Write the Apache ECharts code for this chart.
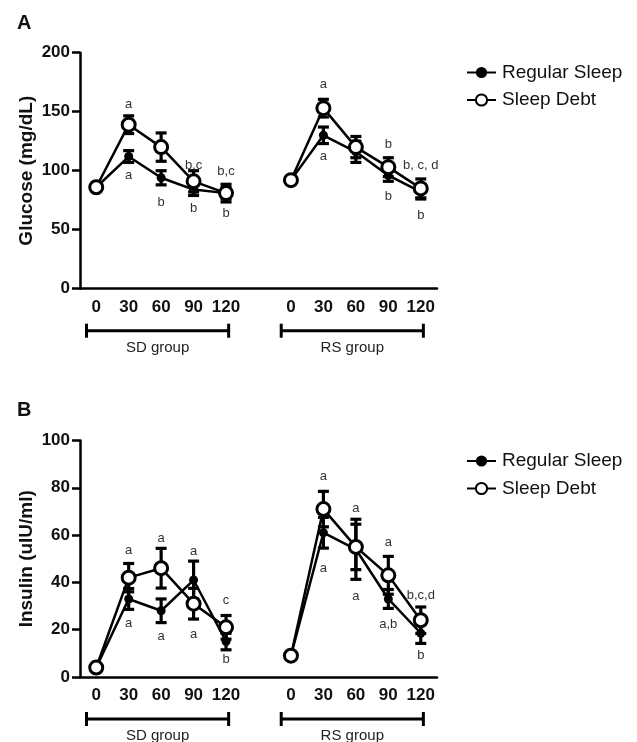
<!DOCTYPE html>
<html>
<head>
<meta charset="utf-8">
<script src="https://cdn.jsdelivr.net/npm/echarts@6/dist/echarts.min.js"></script>
<style>
html, body { margin: 0; padding: 0; background: #fff; }
#main { width: 637px; height: 742px; }
</style>
</head>
<body>
<div id="main"></div>
<script>
// time points: SD group, empty slot, RS group
var timeLabels = ['0', '30', '60', '90', '120', '', '0', '30', '60', '90', '120'];
var groupNames = ['SD group', 'RS group'];
var groupStart = [0, 6];
var groupEnd = [4, 10];

// Glucose (mg/dL)
var glucoseRegular    = [86, 112, 94, 84, 81, null, 92, 130, 116, 96, 82];
var glucoseRegularErr = [2, 5, 6, 5, 5, null, 2, 7, 9, 5, 6];
var glucoseDebt       = [86, 139, 120, 91, 81, null, 92, 153, 120, 103, 85];
var glucoseDebtErr    = [2, 7.5, 12, 9, 7.5, null, 2, 7.5, 9, 8, 8];

// Insulin (uIU/ml)
var insulinRegular    = [4, 33, 28, 41, 15, null, 9, 61, 54, 33, 18.5];
var insulinRegularErr = [1, 4.4, 5, 8, 3.5, null, 1, 6.5, 12.7, 4, 4.3];
var insulinDebt       = [4, 42, 46, 31, 21, null, 9, 71, 55, 43, 24];
var insulinDebtErr    = [1, 6, 8.4, 6.5, 5, null, 1, 7.5, 9.6, 8, 5.6];

// significance letters: [time index, y value, text]
var glucoseLetters = [
    [1, 156.5, 'a'], [1, 95.8, 'a'], [2, 73.5, 'b'], [3, 104.2, 'b,c'], [3, 68.4, 'b'],
    [4, 99.2, 'b,c'], [4, 64.2, 'b'],
    [7, 173.2, 'a'], [7, 111.9, 'a'], [9, 122.6, 'b'], [9, 78.6, 'b'],
    [10, 104.2, 'b, c, d'], [10, 62.5, 'b']
];
var insulinLetters = [
    [1, 53.6, 'a'], [1, 22.7, 'a'], [2, 58.4, 'a'], [2, 17, 'a'], [3, 53, 'a'], [3, 17.8, 'a'],
    [4, 32.3, 'c'], [4, 7.5, 'b'],
    [7, 84.6, 'a'], [7, 45.9, 'a'], [8, 71.3, 'a'], [8, 34.2, 'a'], [9, 56.9, 'a'], [9, 22.4, 'a,b'],
    [10, 34.6, 'b,c,d'], [10, 9.3, 'b']
];

var FONT = "'Liberation Sans', Arial, sans-serif";
var chart = echarts.init(document.getElementById('main'));

function tickShown(index) {
    return timeLabels[index] !== '';
}

function errData(mean, err) {
    var out = [];
    for (var i = 0; i < mean.length; i++) {
        if (mean[i] != null) out.push([i, mean[i], err[i]]);
    }
    return out;
}

function renderErrorBar(params, api) {
    var x = api.value(0), y = api.value(1), e = api.value(2);
    var hi = api.coord([x, y + e]);
    var lo = api.coord([x, y - e]);
    var w = 5.5;
    var style = { stroke: '#000', lineWidth: 3.2 };
    return {
        type: 'group',
        children: [
            { type: 'line', shape: { x1: hi[0], y1: hi[1], x2: lo[0], y2: lo[1] }, style: style },
            { type: 'line', shape: { x1: hi[0] - w, y1: hi[1], x2: hi[0] + w, y2: hi[1] }, style: style },
            { type: 'line', shape: { x1: lo[0] - w, y1: lo[1], x2: lo[0] + w, y2: lo[1] }, style: style }
        ]
    };
}

function renderBracket(params, api) {
    var band = api.size([1, 0])[0];
    var p1 = api.coord([api.value(0), 0]);
    var p2 = api.coord([api.value(1), 0]);
    var x1 = p1[0] - 0.3 * band, x2 = p2[0] + 0.08 * band;
    var y = p1[1] + 42;
    var style = { stroke: '#000', lineWidth: 3 };
    return {
        type: 'group',
        children: [
            { type: 'line', shape: { x1: x1, y1: y, x2: x2, y2: y }, style: style },
            { type: 'line', shape: { x1: x1, y1: y - 7, x2: x1, y2: y + 7 }, style: style },
            { type: 'line', shape: { x1: x2, y1: y - 7, x2: x2, y2: y + 7 }, style: style },
            { type: 'text', x: (x1 + x2) / 2, y: y + 17,
              style: { text: groupNames[params.dataIndex], fill: '#222', fontSize: 15, fontFamily: FONT,
                       align: 'center', verticalAlign: 'middle' } }
        ]
    };
}

function letterRenderer(letters) {
    return function (params, api) {
        var p = api.coord([api.value(0), api.value(1)]);
        return {
            type: 'text', x: p[0], y: p[1],
            style: { text: letters[params.dataIndex][2], fill: '#333', fontSize: 13, fontFamily: FONT,
                     align: 'center', verticalAlign: 'middle' }
        };
    };
}

function xAxes(gridIndex) {
    var common = {
        type: 'category', gridIndex: gridIndex, data: timeLabels, boundaryGap: true,
        splitLine: { show: false }
    };
    return [
        Object.assign({}, common, {
            axisLine: { lineStyle: { color: '#000', width: 2.5 } },
            axisTick: { alignWithLabel: true, interval: tickShown, length: 7, lineStyle: { color: '#000', width: 2.5 } },
            axisLabel: { interval: 0, margin: 10, color: '#111', fontSize: 17, fontWeight: 'bold', fontFamily: FONT }
        }),
        Object.assign({}, common, {
            axisLine: { show: false },
            axisTick: { alignWithLabel: true, inside: true, interval: tickShown, length: 7, lineStyle: { color: '#000', width: 2.5 } },
            axisLabel: { show: false }
        })
    ];
}

function yAxis(gridIndex, max, interval, name) {
    return {
        type: 'value', gridIndex: gridIndex, min: 0, max: max, interval: interval,
        name: name, nameLocation: 'middle', nameGap: 44, nameMoveOverlap: false,
        nameTextStyle: { color: '#111', fontSize: 19, fontWeight: 'bold', fontFamily: FONT },
        axisLine: { show: true, lineStyle: { color: '#000', width: 2.5 } },
        axisTick: { show: true, length: 8, lineStyle: { color: '#000', width: 2.5 } },
        axisLabel: { margin: 10, color: '#111', fontSize: 17, fontWeight: 'bold', fontFamily: FONT },
        splitLine: { show: false }
    };
}

function lineSeries(name, data, open, axisIndex) {
    return {
        name: name, type: 'line', data: data, xAxisIndex: axisIndex * 2, yAxisIndex: axisIndex,
        symbol: 'circle', symbolSize: open ? 13 : 9, z: 3, connectNulls: false,
        lineStyle: { color: '#000', width: 2.5 },
        itemStyle: open ? { color: '#fff', borderColor: '#000', borderWidth: 3 } : { color: '#000', borderColor: '#000', borderWidth: 0 },
        emphasis: { disabled: true }
    };
}

function errSeries(mean, err, axisIndex) {
    return {
        type: 'custom', xAxisIndex: axisIndex * 2, yAxisIndex: axisIndex, z: 1, silent: true,
        renderItem: renderErrorBar, data: errData(mean, err)
    };
}

function legend(top) {
    return {
        left: 461, top: top, orient: 'vertical', itemWidth: 29, itemHeight: 14, itemGap: 8.5,
        data: ['Regular Sleep', 'Sleep Debt'],
        textStyle: { color: '#111', fontSize: 19, fontFamily: FONT, padding: [0, 0, 0, 1] }
    };
}

var option = {
    animation: false,
    backgroundColor: '#fff',
    title: [
        { text: 'A', left: 17, top: 13, padding: 0, textStyle: { fontSize: 20, fontWeight: 'bold', color: '#111', fontFamily: FONT } },
        { text: 'B', left: 17, top: 400, padding: 0, textStyle: { fontSize: 20, fontWeight: 'bold', color: '#111', fontFamily: FONT } }
    ],
    legend: [legend(58), legend(446.5)],
    grid: [
        { left: 80, top: 52.7, width: 357, height: 236 },
        { left: 80, top: 440.5, width: 357, height: 236.5 }
    ],
    xAxis: xAxes(0).concat(xAxes(1)),
    yAxis: [
        yAxis(0, 200, 50, 'Glucose (mg/dL)'),
        yAxis(1, 100, 20, 'Insulin (uIU/ml)')
    ],
    series: [
        errSeries(glucoseRegular, glucoseRegularErr, 0),
        errSeries(glucoseDebt, glucoseDebtErr, 0),
        lineSeries('Regular Sleep', glucoseRegular, false, 0),
        lineSeries('Sleep Debt', glucoseDebt, true, 0),
        errSeries(insulinRegular, insulinRegularErr, 1),
        errSeries(insulinDebt, insulinDebtErr, 1),
        lineSeries('Regular Sleep', insulinRegular, false, 1),
        lineSeries('Sleep Debt', insulinDebt, true, 1),
        {
            type: 'custom', xAxisIndex: 0, yAxisIndex: 0, clip: false, silent: true,
            renderItem: letterRenderer(glucoseLetters),
            data: glucoseLetters.map(function (d) { return [d[0], d[1]]; })
        },
        {
            type: 'custom', xAxisIndex: 2, yAxisIndex: 1, clip: false, silent: true,
            renderItem: letterRenderer(insulinLetters),
            data: insulinLetters.map(function (d) { return [d[0], d[1]]; })
        },
        {
            type: 'custom', xAxisIndex: 0, yAxisIndex: 0, clip: false, silent: true,
            encode: { x: [0, 1] }, renderItem: renderBracket,
            data: groupStart.map(function (s, i) { return [s, groupEnd[i]]; })
        },
        {
            type: 'custom', xAxisIndex: 2, yAxisIndex: 1, clip: false, silent: true,
            encode: { x: [0, 1] }, renderItem: renderBracket,
            data: groupStart.map(function (s, i) { return [s, groupEnd[i]]; })
        }
    ]
};
chart.setOption(option);
</script>
</body>
</html>
